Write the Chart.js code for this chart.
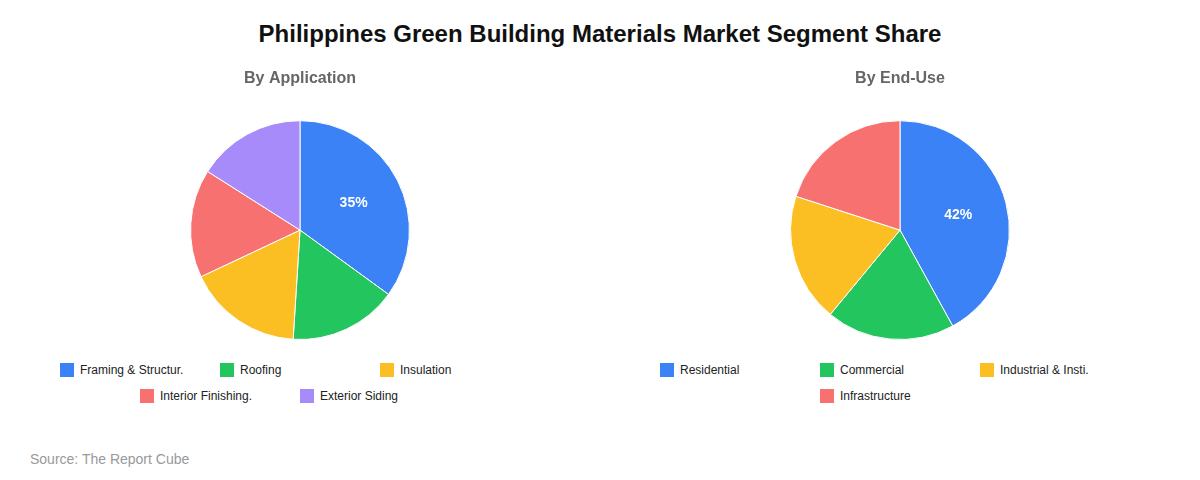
<!DOCTYPE html>
<html>
<head>
<meta charset="utf-8">
<script src="https://cdn.jsdelivr.net/npm/chart.js@4/dist/chart.umd.min.js"></script>
<style>
  body { margin: 0; width: 1200px; height: 480px; background: #fff; font-family: Arial, "Liberation Sans", sans-serif; position: relative; overflow: hidden; }
  h1 { position: absolute; top: 20px; left: 0; width: 1200px; margin: 0; text-align: center; font-size: 24px; font-weight: bold; color: #111; }
  .panel { position: absolute; top: 55px; width: 600px; }
  .panel canvas { display: block; }
  .legend { width: 480px; margin: 12px auto 0; display: flex; flex-wrap: wrap; justify-content: center; }
  .legend div { width: 160px; height: 26px; display: flex; align-items: center; font-size: 12px; color: #222; }
  .legend span { width: 14px; height: 14px; margin-right: 6px; flex: none; }
  .source { position: absolute; left: 30px; top: 451px; font-size: 14px; color: #999; }
</style>
</head>
<body>
<h1>Philippines Green Building Materials Market Segment Share</h1>
<div class="panel" style="left:0"><canvas id="appChart" width="600" height="290"></canvas><div class="legend" id="appLegend"></div></div>
<div class="panel" style="left:600px"><canvas id="endChart" width="600" height="290"></canvas><div class="legend" id="endLegend"></div></div>
<div class="source">Source: The Report Cube</div>
<script>
const appLabels = ["Framing & Structur.", "Roofing", "Insulation", "Interior Finishing.", "Exterior Siding"];
const appValues = [35, 16, 17, 16, 16];
const appColors = ["#3b82f6", "#22c55e", "#fbbf24", "#f87171", "#a78bfa"];

const endLabels = ["Residential", "Commercial", "Industrial & Insti.", "Infrastructure"];
const endValues = [42, 19, 19, 20];
const endColors = ["#3b82f6", "#22c55e", "#fbbf24", "#f87171"];

// label only the largest slice, at about half the radius
const bigLabel = {
    id: "bigLabel",
    afterDatasetsDraw(chart) {
        const ds = chart.data.datasets[0];
        const max = Math.max(...ds.data);
        const i = ds.data.indexOf(max);
        const arc = chart.getDatasetMeta(0).data[i];
        const mid = (arc.startAngle + arc.endAngle) / 2;
        const r = arc.outerRadius * 0.55;
        const c = chart.ctx;
        c.save();
        c.fillStyle = "#fff";
        c.font = "bold 14px Arial, 'Liberation Sans', sans-serif";
        c.textAlign = "center";
        c.textBaseline = "middle";
        c.fillText(max + "%", arc.x + Math.cos(mid) * r, arc.y + Math.sin(mid) * r);
        c.restore();
    }
};

function makePie(id, legendId, title, labels, values, colors) {
    new Chart(document.getElementById(id), {
        type: "pie",
        data: {
            labels: labels,
            datasets: [{ data: values, backgroundColor: colors, borderColor: "#fff", borderWidth: 1 }]
        },
        options: {
            responsive: false,
            animation: false,
            layout: { padding: { bottom: 5 } },
            plugins: {
                legend: { display: false },
                tooltip: { enabled: false },
                title: {
                    display: true,
                    text: title,
                    color: "#666",
                    font: { size: 16, weight: "bold", family: "Arial, 'Liberation Sans', sans-serif" },
                    padding: { top: 14, bottom: 32 }
                }
            }
        },
        plugins: [bigLabel]
    });

    document.getElementById(legendId).innerHTML = labels
        .map((l, i) => `<div><span style="background:${colors[i]}"></span>${l}</div>`)
        .join("");
}

makePie("appChart", "appLegend", "By Application", appLabels, appValues, appColors);
makePie("endChart", "endLegend", "By End-Use", endLabels, endValues, endColors);
</script>
</body>
</html>
